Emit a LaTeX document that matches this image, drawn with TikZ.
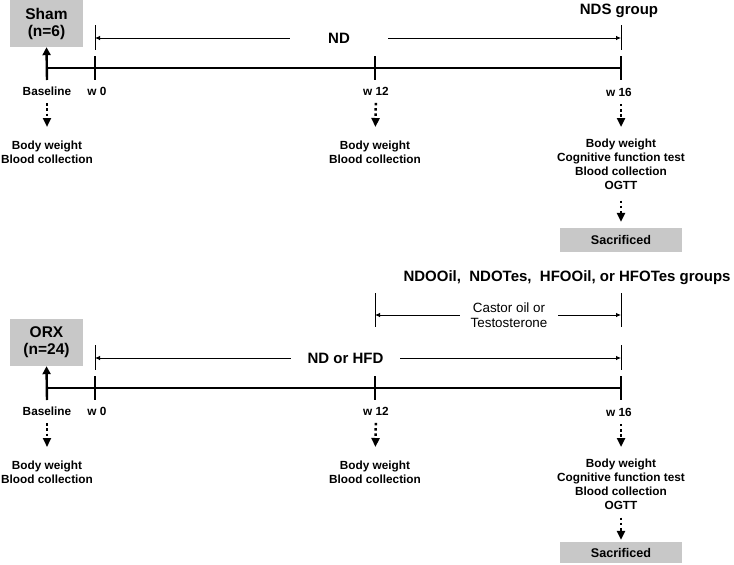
\documentclass[tikz,border=0pt]{standalone}
\usepackage{fontspec}
\setmainfont{Liberation Sans}
\usepackage{xcolor}
\usepackage{tikz}
\usetikzlibrary{arrows.meta}
\definecolor{boxgray}{RGB}{200,200,200}
\tikzstyle{grpbox} = [rectangle, fill=boxgray, minimum width=73pt, minimum height=47pt,
    align=center, inner sep=0pt, font=\fontsize{15.5}{17}\selectfont\bfseries]
\tikzstyle{endbox} = [rectangle, fill=boxgray, minimum width=122pt, minimum height=24pt,
    inner sep=0pt, font=\fontsize{12.6}{14}\selectfont\bfseries]
\tikzstyle{head} = [inner sep=0pt, font=\fontsize{15}{17}\selectfont\bfseries]
\tikzstyle{wk} = [inner sep=0pt, font=\fontsize{11.8}{14}\selectfont\bfseries]
\tikzstyle{measure} = [inner sep=0pt, align=center, anchor=north,
    font=\fontsize{11.8}{14}\selectfont\bfseries]
\tikzstyle{treat} = [inner sep=0pt, align=center, font=\fontsize{13.4}{15}\selectfont]
\tikzstyle{axis} = [draw, line width=2.4pt]
\tikzstyle{tick} = [draw, line width=2.4pt]
\tikzstyle{bar} = [draw, line width=0.8pt]
\tikzstyle{span} = [draw, line width=0.8pt, -{Latex[length=5pt,width=4.5pt]}]
\tikzstyle{dotarrow} = [draw, line width=2.5pt, dash pattern=on 2.5pt off 2.8pt,
    -{Triangle[length=9pt,width=8pt]}, shorten <=7.5pt, shorten >=14pt]
\tikzstyle{uparrow} = [draw, line width=2.4pt, -{Triangle[length=8pt,width=8pt]}]

\begin{document}
\begin{tikzpicture}[x=1pt, y=-1pt]
			\useasboundingbox (0,0) rectangle (734,565);
			% Sham timeline
			\node [grpbox] (sham) at (46.5,23.5) {Sham\\(n=6)};
			\node [head] (ndsGrp) at (619,11) {NDS group};
			\coordinate (shBase) at (47,68);
			\coordinate (shW0) at (95,68);
			\coordinate (shW12) at (375,68);
			\coordinate (shW16) at (621,68);
			\path [axis] (shBase) -- (shW16);
			\path [tick] ([yshift=12]shW0) -- ([yshift=-12]shW0);
			\path [tick] ([yshift=12]shW12) -- ([yshift=-12]shW12);
			\path [tick] ([yshift=12]shW16) -- ([yshift=-12]shW16);
			\path [uparrow] ([yshift=-12]shBase) -- (sham.south);
			
			\coordinate (ndL) at (95,38);
			\coordinate (ndR) at (621,38);
			\path [bar] ([yshift=13]ndL) -- ([yshift=-12]ndL);
			\path [bar] ([yshift=13]ndR) -- ([yshift=-12]ndR);
			\node [head, minimum width=98pt] (ndLbl) at (339,38) {ND};
			\path [span] (ndLbl) -- (ndL);
			\path [span] (ndLbl) -- (ndR);
			
			\node [wk] (shLb) at (47,91) {Baseline};
			\node [wk] (shL0) at (97,91) {w 0};
			\node [wk] (shL12) at (376,91) {w 12};
			\node [wk] (shL16) at (619,92) {w 16};
			\node [measure] (shMb) at (47,141) {Body weight\\Blood collection};
			\node [measure] (shM12) at (375,141) {Body weight\\Blood collection};
			\node [measure] (shM16) at (621,139) {Body weight\\Cognitive function test\\Blood collection\\OGTT};
			\node [endbox] (shEnd) at (621,240) {Sacrificed};
			\path [dotarrow] (shLb) -- (shMb);
			\path [dotarrow] (shL12) -- (shM12);
			\path [dotarrow, shorten >=12pt] ([xshift=2pt]shL16.south) -- (shM16);
			\path [dotarrow, shorten <=10.5pt, shorten >=6pt] (shM16) -- (shEnd);
			
			% ORX timeline
			\node [grpbox] (orx) at (46.5,342.5) {ORX\\(n=24)};
			\node [head] (orxGrp) at (567,278) {NDOOil,\ \ NDOTes,\ \ HFOOil, or HFOTes groups};
			\coordinate (oxBase) at (47,388);
			\coordinate (oxW0) at (95,388);
			\coordinate (oxW12) at (375,388);
			\coordinate (oxW16) at (621,388);
			\path [axis] (oxBase) -- (oxW16);
			\path [tick] ([yshift=12]oxW0) -- ([yshift=-12]oxW0);
			\path [tick] ([yshift=12]oxW12) -- ([yshift=-12]oxW12);
			\path [tick] ([yshift=12]oxW16) -- ([yshift=-12]oxW16);
			\path [uparrow] ([yshift=-12]oxBase) -- (orx.south);
			
			\coordinate (ctL) at (375,315);
			\coordinate (ctR) at (621,315);
			\path [bar] ([yshift=22]ctL) -- ([yshift=-12]ctL);
			\path [bar] ([yshift=22]ctR) -- ([yshift=-12]ctR);
			\node [treat, minimum width=98pt] (ctLbl) at (509,315) {Castor oil or\\Testosterone};
			\path [span] (ctLbl) -- (ctL);
			\path [span] (ctLbl) -- (ctR);
			
			\coordinate (nhL) at (95,358);
			\coordinate (nhR) at (621,358);
			\path [bar] ([yshift=13]nhL) -- ([yshift=-12]nhL);
			\path [bar] ([yshift=13]nhR) -- ([yshift=-12]nhR);
			\node [head, minimum width=109pt] (nhLbl) at (345.5,358) {ND or HFD};
			\path [span] (nhLbl) -- (nhL);
			\path [span] (nhLbl) -- (nhR);
			
			\node [wk] (oxLb) at (47,411) {Baseline};
			\node [wk] (oxL0) at (97,411) {w 0};
			\node [wk] (oxL12) at (376,411) {w 12};
			\node [wk] (oxL16) at (619,412) {w 16};
			\node [measure] (oxMb) at (47,461) {Body weight\\Blood collection};
			\node [measure] (oxM12) at (375,461) {Body weight\\Blood collection};
			\node [measure] (oxM16) at (621,459) {Body weight\\Cognitive function test\\Blood collection\\OGTT};
			\node [endbox, minimum height=21pt] (oxEnd) at (621,552.5) {Sacrificed};
			\path [dotarrow] (oxLb) -- (oxMb);
			\path [dotarrow] (oxL12) -- (oxM12);
			\path [dotarrow, shorten >=12pt] ([xshift=2pt]oxL16.south) -- (oxM16);
			\path [dotarrow, shorten <=7.5pt, shorten >=2pt] (oxM16) -- (oxEnd);
\end{tikzpicture}
\end{document}
